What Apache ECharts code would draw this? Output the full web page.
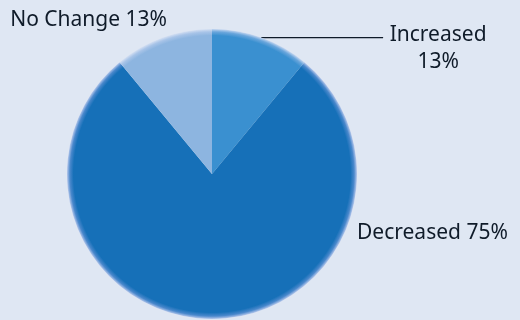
<!DOCTYPE html>
<html>
<head>
<meta charset="utf-8">
<script src="https://cdn.jsdelivr.net/npm/echarts@6/dist/echarts.min.js"></script>
<style>
html,body{margin:0;padding:0;background:#dfe7f3;}
#c{width:520px;height:320px;}
</style>
</head>
<body>
<div id="c"></div>
<script>
const categories = ['Increased', 'Decreased', 'No Change'];
const values = [11, 78, 11];
const percentLabels = ['13%', '75%', '13%'];
const colors = ['#3a90d0', '#1670b8', '#8db5e0'];
const midColors = ['#6aa6dc', '#4a88cc', '#a8c4e8'];
const edgeColors = ['#c4d6f0', '#b8c9ec', '#d5e0f2'];

const CX = 212, CY = 174, R = 145;
function grad(i) {
  return {
    type: 'radial', x: CX, y: CY, r: R, global: true,
    colorStops: [
      { offset: 0, color: colors[i] },
      { offset: 0.955, color: colors[i] },
      { offset: 0.98, color: midColors[i] },
      { offset: 1, color: edgeColors[i] }
    ]
  };
}

const data = categories.map((c, i) => {
  const d = { name: c, value: values[i], itemStyle: { color: grad(i), borderWidth: 0 } };
  if (i === 0) {
    d.label = {
      formatter: '{a|' + c + '}\n{a|' + percentLabels[i] + '}',
      padding: [22, 0, 0, 0]
    };
    d.labelLine = { show: true };
  } else {
    d.label = { formatter: c + ' ' + percentLabels[i] };
    d.labelLine = { show: false };
  }
  return d;
});

const chart = echarts.init(document.getElementById('c'), null, { renderer: 'canvas' });
chart.setOption({
  backgroundColor: '#dfe7f3',
  animation: false,
  series: [{
    type: 'pie',
    center: [CX, CY],
    radius: R,
    startAngle: 90,
    clockwise: true,
    data: data,
    label: {
      show: true,
      position: 'outside',
      color: '#0f1b29',
      fontFamily: 'Noto Sans',
      fontSize: 21,
      overflow: 'none',
      rich: {
        a: { width: 100, align: 'center', color: '#0f1b29', fontFamily: 'Noto Sans', fontSize: 21, lineHeight: 27 }
      }
    },
    labelLine: {
      length: 0,
      length2: 122,
      smooth: false,
      lineStyle: { color: '#0f1b29', width: 1.3 }
    },
    labelLayout: function (p) {
      if (p.dataIndex === 1) return { x: 357, y: 233, align: 'left', verticalAlign: 'middle' };
      if (p.dataIndex === 2) return { x: 167, y: 20, align: 'right', verticalAlign: 'middle' };
      return {};
    },
    emphasis: { disabled: true }
  }]
});
</script>
</body>
</html>
